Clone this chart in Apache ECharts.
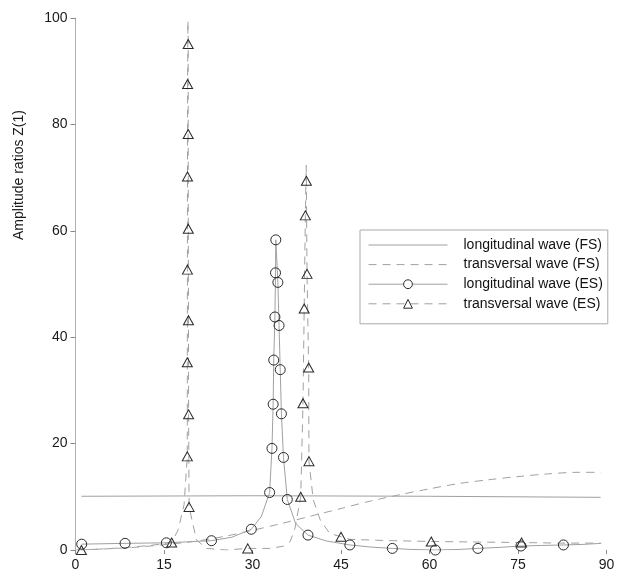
<!DOCTYPE html>
<html>
<head>
<meta charset="utf-8">
<script src="https://cdn.jsdelivr.net/npm/echarts@6/dist/echarts.min.js"></script>
<style>html,body{margin:0;padding:0;background:#fff}#c{width:620px;height:572px}</style>
</head>
<body>
<div id="c"></div>
<script>
// ---- data ----
const seriesNames = ['longitudinal wave (FS)', 'transversal wave (FS)', 'longitudinal wave (ES)', 'transversal wave (ES)'];
const yAxisTitle = 'Amplitude ratios Z(1)';

const fsLongX = [1, 30, 60, 89];
const fsLongY = [10.1, 10.2, 10.1, 9.9];

const fsTransX = [0, 5, 10, 15, 20, 25, 30, 35, 40, 45, 50, 55, 60, 65, 70, 75, 80, 85, 89];
const fsTransY = [0, 0.2, 0.5, 1.0, 1.6, 2.5, 3.7, 5.0, 6.4, 7.8, 9.2, 10.4, 11.5, 12.5, 13.2, 13.8, 14.3, 14.6, 14.6];

const esLongX = [1.05, 8.4, 15.4, 23.05, 26.5, 29.8, 31.5, 32.9, 33.3, 33.5, 33.6, 33.8, 33.9, 33.95, 34.3, 34.5, 34.7, 34.9, 35.25, 35.9, 37.3, 39.4, 42.5, 46.5, 50, 53.7, 57, 61.0, 65, 68.2, 72, 75.5, 79, 82.7, 86, 89.1];
const esLongY = [1.1, 1.25, 1.35, 1.75, 2.4, 3.9, 6.3, 10.8, 19.1, 27.4, 35.7, 43.8, 52.1, 58.3, 50.3, 42.2, 33.9, 25.6, 17.4, 9.5, 5.0, 2.8, 1.7, 0.95, 0.55, 0.3, 0.1, 0.0, 0.1, 0.3, 0.5, 0.75, 0.85, 0.95, 1.05, 1.25];
const esLongMark = [1,1,1,1,0,1,0,1,1,1,1,1,1,1,1,1,1,1,1,1,0,1,0,1,0,1,0,1,0,1,0,1,0,1,0,0];

const esTransX = [1.0, 8, 13, 16.3, 17.4, 18.4, 18.95, 18.95, 18.97, 18.98, 19.0, 19.05, 19.1, 19.1, 19.12, 19.15, 19.17, 19.25, 20.5, 22.2, 25.5, 29.2, 33, 35.2, 36.4, 37.2, 38.17, 38.56, 38.76, 38.96, 39.1, 39.13, 39.24, 39.52, 39.57, 40.3, 41.5, 43.1, 45.0, 46.5, 52, 60.3, 68, 75.6, 82, 89];
const esTransY = [0, 0.4, 0.9, 1.4, 3.8, 8.5, 17.6, 35.3, 52.7, 70.2, 87.6, 99.5, 95.1, 78.2, 60.4, 43.2, 25.5, 8.1, 1.9, 0.3, 0, 0.3, 0.3, 0.7, 1.6, 4.1, 10.0, 27.6, 45.4, 62.9, 72.3, 69.4, 51.9, 34.3, 16.7, 9.4, 5.6, 3.1, 2.5, 2.0, 1.8, 1.6, 1.5, 1.4, 1.3, 1.3];
const esTransMark = [1,0,0,1,0,0,1,1,1,1,1,0,1,1,1,1,1,1,0,0,0,1,0,0,0,0,1,1,1,1,0,1,1,1,1,0,0,0,1,0,0,1,0,1,0,0];

const xMin = 0, xMax = 90, xStep = 15;
const yMin = 0, yMax = 100, yStep = 20;

// ---- build ----
function pairs(xs, ys, marks) {
  return xs.map((x, i) => {
    const d = { value: [x, ys[i]] };
    if (marks && !marks[i]) d.symbol = 'none';
    return d;
  });
}
const FONT = '"Liberation Sans", Arial, sans-serif';
const LINE = '#a0a0a0';
const MARK = '#2a2a2a';

const chart = echarts.init(document.getElementById('c'), null, { renderer: 'canvas' });
chart.setOption({
  animation: false,
  backgroundColor: '#fff',
  textStyle: { fontFamily: FONT },
  grid: { left: 75.5, right: 13.5, top: 18, bottom: 22, containLabel: false },
  xAxis: {
    type: 'value', min: xMin, max: xMax, interval: xStep,
    axisLine: { show: false },
    axisTick: { show: true, length: 4, lineStyle: { color: '#888' } },
    axisLabel: { color: '#1a1a1a', fontSize: 14, fontFamily: FONT, margin: 8 },
    splitLine: { show: false }
  },
  yAxis: {
    type: 'value', min: yMin, max: yMax, interval: yStep,
    axisLine: { show: true, lineStyle: { color: '#b0b0b0', width: 1 } },
    axisTick: { show: true, length: 5, lineStyle: { color: '#888' } },
    axisLabel: { color: '#1a1a1a', fontSize: 14, fontFamily: FONT, margin: 8 },
    splitLine: { show: false }
  },
  legend: {
    orient: 'vertical', left: 360, top: 230,
    borderColor: '#aaa', borderWidth: 1,
    padding: [8, 5, 13, 8],
    itemWidth: 79, itemHeight: 11, itemGap: 5.6,
    itemStyle: { borderWidth: 1 },
    lineStyle: { width: 1 },
    textStyle: { fontSize: 14, color: '#111', fontFamily: FONT, padding: [0, 0, 0, 11] },
    data: [
      { name: seriesNames[0], itemStyle: { color: 'rgba(0,0,0,0)', borderColor: 'rgba(0,0,0,0)', borderWidth: 0 } },
      { name: seriesNames[1], itemStyle: { color: 'rgba(0,0,0,0)', borderColor: 'rgba(0,0,0,0)', borderWidth: 0 } },
      { name: seriesNames[2], itemStyle: { color: '#fff', borderColor: MARK, borderWidth: 1 } },
      { name: seriesNames[3], itemStyle: { color: '#fff', borderColor: MARK, borderWidth: 1 } }
    ]
  },
  graphic: [{
    type: 'text', x: 19, y: 175, rotation: Math.PI / 2,
    style: { text: yAxisTitle, font: '14px ' + FONT, fill: '#1a1a1a', textAlign: 'center', textVerticalAlign: 'middle' }
  }],
  series: [
    {
      name: seriesNames[0], type: 'line', data: pairs(fsLongX, fsLongY), symbol: 'none',
      itemStyle: { color: 'rgba(0,0,0,0)' },
      lineStyle: { color: LINE, width: 1, type: 'solid' }, z: 2
    },
    {
      name: seriesNames[1], type: 'line', data: pairs(fsTransX, fsTransY), symbol: 'none', smooth: 0.3,
      itemStyle: { color: 'rgba(0,0,0,0)' },
      lineStyle: { color: LINE, width: 1, type: [8, 6] }, z: 2
    },
    {
      name: seriesNames[2], type: 'line', data: pairs(esLongX, esLongY, esLongMark),
      symbol: 'circle', symbolSize: 10, showAllSymbol: true,
      itemStyle: { color: 'rgba(255,255,255,0)', borderColor: MARK, borderWidth: 1 },
      lineStyle: { color: LINE, width: 1, type: 'solid' }, z: 3
    },
    {
      name: seriesNames[3], type: 'line', data: pairs(esTransX, esTransY, esTransMark),
      symbol: 'triangle', symbolSize: [10, 9], showAllSymbol: true,
      itemStyle: { color: 'rgba(255,255,255,0)', borderColor: MARK, borderWidth: 1 },
      lineStyle: { color: LINE, width: 1, type: [8, 6] }, z: 3
    }
  ]
});
</script>
</body>
</html>
